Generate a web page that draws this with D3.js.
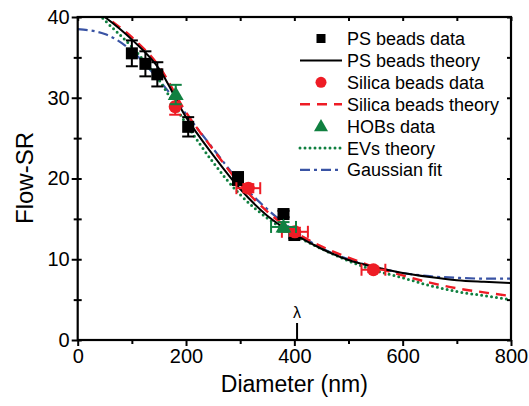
<!DOCTYPE html>
<html>
<head>
<meta charset="utf-8">
<script src="https://cdn.jsdelivr.net/npm/d3@7"></script>
<style>
  body { margin: 0; background: #fff; }
  svg { display: block; }
</style>
</head>
<body>
<svg id="canvas" width="529" height="406"></svg>
<script>
// PS beads data
var psX = [100, 125, 147, 204, 296, 380, 400];
var psY = [35.5, 34.2, 32.9, 26.4, 20.0, 15.6, 13.0];
var psErr = [1.6, 1.55, 1.5, 1.2, 0.8, 0.4, 0.4];

// Silica beads data
var silicaX = [180, 315, 401, 546];
var silicaY = [28.9, 18.8, 13.4, 8.7];
var silicaXErr = [0, 22, 24, 22];
var silicaYErr = [1.0, 0.5, 0.5, 0.3];

// HOBs data
var hobX = [181, 380];
var hobY = [30.4, 14.0];
var hobXErr = [0, 23];
var hobYErr = [1.2, 0.6];

// theory curves
var theoryX = [40, 50, 100, 150, 200, 250, 300, 350, 400, 450, 500, 550, 600, 650, 700, 750, 800];
var psTheory = [40.5, 40.0, 37.2, 33.6, 27.6, 22.9, 18.7, 15.4, 13.1, 11.3, 9.9, 9.0, 8.3, 7.8, 7.4, 7.2, 7.05];
var silicaTheory = [40.8, 40.2, 37.5, 33.9, 28.2, 23.6, 19.3, 15.9, 13.4, 11.6, 10.2, 9.0, 8.0, 7.1, 6.4, 5.9, 5.45];
var evTheory = [40.3, 39.6, 36.3, 32.2, 26.8, 22.0, 18.0, 15.1, 13.0, 11.3, 9.8, 8.6, 7.7, 6.75, 6.0, 5.5, 5.0];

var gaussX = [0, 50, 100, 150, 200, 250, 300, 350, 400, 450, 500, 550, 600, 650, 700, 750, 800];
var gaussY = [38.5, 37.9, 35.8, 32.2, 28.0, 23.7, 19.5, 16.2, 13.5, 11.4, 10.0, 9.0, 8.3, 7.9, 7.7, 7.6, 7.6];

var xTicks = [0, 200, 400, 600, 800];
var yTicks = [0, 10, 20, 30, 40];
var lambda = 405;

var legendLabels = ["PS beads data", "PS beads theory", "Silica beads data", "Silica beads theory", "HOBs data", "EVs theory", "Gaussian fit"];

var BLACK = "#000", RED = "#ee1c25", GREEN = "#108040", BLUE = "#3953a4";
var FONT = "'Liberation Sans', Arial, sans-serif";

var svg = d3.select("#canvas");
var plotLeft = 77.7, plotRight = 511, plotTop = 17, plotBottom = 340;

var x = d3.scaleLinear().domain([0, 800]).range([plotLeft, plotRight]);
var y = d3.scaleLinear().domain([0, 40]).range([plotBottom, plotTop]);

svg.append("defs").append("clipPath").attr("id", "plotClip")
    .append("rect")
    .attr("x", plotLeft).attr("y", plotTop)
    .attr("width", plotRight - plotLeft).attr("height", plotBottom - plotTop);

// Curves
function drawCurve(xs, ys, color, dash, width) {
    var line = d3.line()
        .x(function(d) { return x(d[0]); })
        .y(function(d) { return y(d[1]); })
        .curve(d3.curveMonotoneX);
    svg.append("path")
        .datum(d3.zip(xs, ys))
        .attr("clip-path", "url(#plotClip)")
        .attr("d", line)
        .attr("fill", "none")
        .attr("stroke", color)
        .attr("stroke-width", width)
        .attr("stroke-dasharray", dash)
        .attr("stroke-linecap", dash === "0,5" ? "round" : "butt");
}

drawCurve(gaussX, gaussY, BLUE, "10,4,3,4", 2.2);
drawCurve(theoryX, evTheory, GREEN, "0,5", 3);
drawCurve(theoryX, silicaTheory, RED, "10,7", 2.4);
drawCurve(theoryX, psTheory, BLACK, null, 2);

// Error bars
function drawErrors(xs, ys, xErr, yErr, color) {
    var g = svg.append("g").attr("stroke", color).attr("stroke-width", 2);
    xs.forEach(function(xv, i) {
        var cx = x(xv), cy = y(ys[i]);
        if (yErr[i] > 0) {
            var y1 = y(ys[i] + yErr[i]), y2 = y(ys[i] - yErr[i]);
            g.append("line").attr("x1", cx).attr("x2", cx).attr("y1", y1).attr("y2", y2);
            g.append("line").attr("x1", cx - 6).attr("x2", cx + 6).attr("y1", y1).attr("y2", y1);
            g.append("line").attr("x1", cx - 6).attr("x2", cx + 6).attr("y1", y2).attr("y2", y2);
        }
        if (xErr[i] > 0) {
            var x1 = x(xv - xErr[i]), x2 = x(xv + xErr[i]);
            g.append("line").attr("x1", x1).attr("x2", x2).attr("y1", cy).attr("y2", cy);
            g.append("line").attr("x1", x1).attr("x2", x1).attr("y1", cy - 6).attr("y2", cy + 6);
            g.append("line").attr("x1", x2).attr("x2", x2).attr("y1", cy - 6).attr("y2", cy + 6);
        }
    });
}

var zeros = psX.map(function() { return 0; });
drawErrors(psX, psY, zeros, psErr, BLACK);
svg.append("g").selectAll("rect")
    .data(d3.zip(psX, psY))
    .enter().append("rect")
    .attr("x", function(d) { return x(d[0]) - 6; })
    .attr("y", function(d) { return y(d[1]) - 6; })
    .attr("width", 12).attr("height", 12)
    .attr("fill", BLACK);

drawErrors(silicaX, silicaY, silicaXErr, silicaYErr, RED);
svg.append("g").selectAll("circle")
    .data(d3.zip(silicaX, silicaY))
    .enter().append("circle")
    .attr("cx", function(d) { return x(d[0]); })
    .attr("cy", function(d) { return y(d[1]); })
    .attr("r", 6.5)
    .attr("fill", RED);

var tri = d3.symbol().type(d3.symbolTriangle);
drawErrors(hobX, hobY, hobXErr, hobYErr, GREEN);
svg.append("g").selectAll("path")
    .data(d3.zip(hobX, hobY))
    .enter().append("path")
    .attr("d", tri.size(110))
    .attr("transform", function(d) { return "translate(" + x(d[0]) + "," + (y(d[1]) + 1) + ")"; })
    .attr("fill", GREEN);

// Axes
function styleAxis(g) {
    g.select(".domain").remove();
    g.selectAll("line").attr("stroke", BLACK).attr("stroke-width", 2);
    g.selectAll("text").attr("font-family", FONT).attr("font-size", 20).attr("fill", BLACK);
}

var xMinor = d3.range(100, 800, 200);
var yMinor = d3.range(5, 40, 10);

svg.append("g").attr("transform", "translate(0," + plotBottom + ")")
    .call(d3.axisBottom(x).tickValues(xTicks).tickSize(6).tickPadding(3).tickFormat(d3.format("d")))
    .call(styleAxis);
svg.append("g").attr("transform", "translate(0," + plotBottom + ")")
    .call(d3.axisBottom(x).tickValues(xMinor).tickSize(4).tickFormat(""))
    .call(styleAxis);

svg.append("g").attr("transform", "translate(" + plotLeft + ",0)")
    .call(d3.axisLeft(y).tickValues(yTicks).tickSize(6).tickPadding(2).tickFormat(d3.format("d")))
    .call(styleAxis);
svg.append("g").attr("transform", "translate(" + plotLeft + ",0)")
    .call(d3.axisLeft(y).tickValues(yMinor).tickSize(4).tickFormat(""))
    .call(styleAxis);
svg.append("g").attr("transform", "translate(" + plotLeft + ",0)")
    .call(d3.axisRight(y).tickValues(yTicks.concat(yMinor)).tickSize(4).tickFormat(""))
    .call(styleAxis);

// mirrored inner ticks on top and right
svg.append("g").attr("transform", "translate(0," + plotTop + ")")
    .call(d3.axisBottom(x).tickValues(xTicks.concat(xMinor)).tickSize(4).tickFormat(""))
    .call(styleAxis);
svg.append("g").attr("transform", "translate(" + plotRight + ",0)")
    .call(d3.axisLeft(y).tickValues(yTicks.concat(yMinor)).tickSize(4).tickFormat(""))
    .call(styleAxis);

// Frame
svg.append("rect")
    .attr("x", plotLeft).attr("y", plotTop)
    .attr("width", plotRight - plotLeft).attr("height", plotBottom - plotTop)
    .attr("fill", "none").attr("stroke", BLACK).attr("stroke-width", 2.2);

// lambda marker
svg.append("line")
    .attr("x1", x(lambda)).attr("x2", x(lambda))
    .attr("y1", plotBottom).attr("y2", plotBottom - 17)
    .attr("stroke", BLACK).attr("stroke-width", 2);
svg.append("text")
    .attr("x", x(lambda)).attr("y", plotBottom - 22)
    .attr("text-anchor", "middle")
    .attr("font-family", FONT).attr("font-size", 16)
    .text("\u03bb");

// Axis titles
svg.append("text")
    .attr("x", (plotLeft + plotRight) / 2).attr("y", 392)
    .attr("text-anchor", "middle")
    .attr("font-family", FONT).attr("font-size", 23)
    .text("Diameter (nm)");
svg.append("text")
    .attr("transform", "translate(33," + 178 + ") rotate(-90)")
    .attr("text-anchor", "middle")
    .attr("font-family", FONT).attr("font-size", 24)
    .text("Flow-SR");

// Legend
var legend = svg.append("g");
var rowY = d3.range(legendLabels.length).map(function(i) { return 38.5 + i * 21.9; });
var lx1 = 300, lx2 = 342, mx = 321, tx = 347;

legend.selectAll("text")
    .data(legendLabels)
    .enter().append("text")
    .attr("x", tx)
    .attr("y", function(d, i) { return rowY[i] + 6.5; })
    .attr("font-family", FONT).attr("font-size", 18)
    .attr("fill", BLACK)
    .text(function(d) { return d; });

legend.append("rect").attr("x", mx - 4.5).attr("y", rowY[0] - 4.5).attr("width", 9).attr("height", 9).attr("fill", BLACK);
legend.append("circle").attr("cx", mx).attr("cy", rowY[2]).attr("r", 5.5).attr("fill", RED);
legend.append("path").attr("d", tri.size(85)).attr("transform", "translate(" + mx + "," + (rowY[4] + 1) + ")").attr("fill", GREEN);

var samples = [
    { row: 1, color: BLACK, dash: null, w: 2 },
    { row: 3, color: RED, dash: "10,7", w: 2.4 },
    { row: 5, color: GREEN, dash: "0,5", w: 3 },
    { row: 6, color: BLUE, dash: "10,4,3,4", w: 2.2 }
];
samples.forEach(function(s) {
    legend.append("line")
        .attr("x1", lx1).attr("x2", lx2)
        .attr("y1", rowY[s.row]).attr("y2", rowY[s.row])
        .attr("stroke", s.color).attr("stroke-width", s.w)
        .attr("stroke-dasharray", s.dash)
        .attr("stroke-linecap", s.dash === "0,5" ? "round" : "butt");
});
</script>
</body>
</html>
